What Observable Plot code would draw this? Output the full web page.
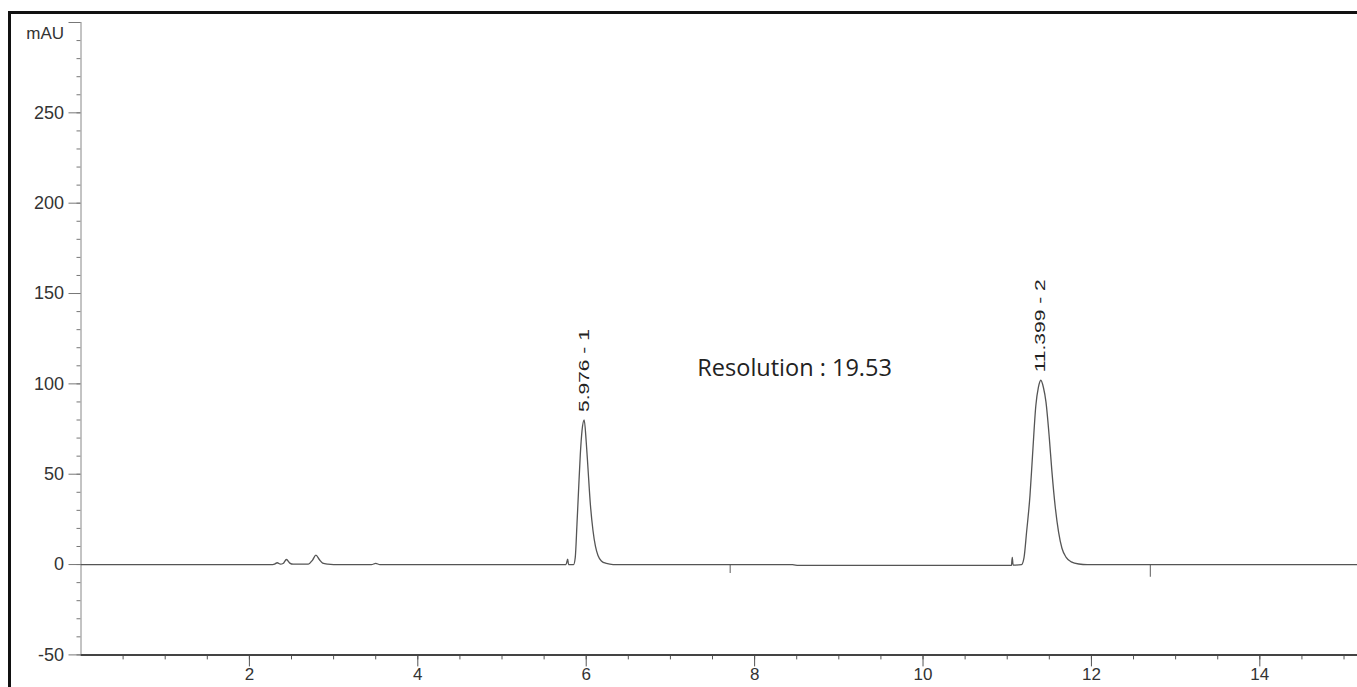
<!DOCTYPE html>
<html>
<head>
<meta charset="utf-8">
<script src="https://cdn.jsdelivr.net/npm/d3@7"></script>
<script src="https://cdn.jsdelivr.net/npm/@observablehq/plot@0.6"></script>
<style>
  html, body { margin: 0; padding: 0; background: #fff; overflow: hidden; width: 1357px; height: 687px; }
  #frame { position: absolute; left: 8px; top: 11px; width: 1400px; height: 720px;
           border-left: 3px solid #111; border-top: 3px solid #111; pointer-events: none; }
  #chart { position: absolute; left: 0; top: 0; }
</style>
</head>
<body>
<div id="chart"></div>
<div id="frame"></div>
<script>
// Chromatogram trace (retention time in min, signal in mAU)
const time = [
  0, 2.25, 2.30, 2.33, 2.37, 2.40, 2.44, 2.48, 2.52, 2.70, 2.75, 2.79, 2.83, 2.87, 2.93, 3.00,
  3.45, 3.50, 3.55, 5.76, 5.78, 5.79, 5.85, 5.87, 5.89, 5.91, 5.93, 5.95, 5.976, 6.00, 6.02,
  6.05, 6.08, 6.11, 6.14, 6.18, 6.24, 6.32, 8.45, 8.52, 11.04, 11.05, 11.06, 11.07, 11.17,
  11.20, 11.23, 11.27, 11.30, 11.34, 11.37, 11.399, 11.43, 11.46, 11.50, 11.53, 11.57, 11.61,
  11.65, 11.70, 11.76, 11.85, 11.95, 15.16
];
const signal = [
  0, 0, 0.3, 1.0, 0.2, 0.6, 2.8, 0.8, 0.2, 0.2, 2.5, 5.2, 2.8, 0.8, 0.2, 0,
  0, 0.6, 0, 0, 3, 0, 0, 4, 22, 42, 61, 74, 80, 68, 54,
  33, 19, 10, 5, 2, 0.6, 0, 0, -0.5, -0.5, -0.5, 4, -0.3, 0,
  4, 18, 38, 60, 88, 98, 102, 98, 90, 70, 52, 32, 18,
  9, 4, 1.5, 0.3, 0, 0
];
// Peak annotations
const peakRT = [5.976, 11.399];
const peakHeight = [80, 102];
const peakLabel = ["5.976 - 1", "11.399 - 2"];
// Event markers below the baseline
const markerT = [7.71, 12.70];
const markerDepth = [-5, -7];
// Axis ticks
const yMajor = [-50, 0, 50, 100, 150, 200, 250, 300];
const yLabels = [-50, 0, 50, 100, 150, 200, 250];
const yMinor = d3.range(-50, 301, 10);
const xMajor = [2, 4, 6, 8, 10, 12, 14];
const xMinor = d3.range(0.5, 15.1, 0.5);
const resolutionNote = [{t: 7.32, v: 108.5, text: "Resolution : 19.53"}];

const trace = time.map((t, i) => ({t, v: signal[i]}));
const peaks = peakRT.map((t, i) => ({t, v: peakHeight[i], label: peakLabel[i]}));
const markers = markerT.map((t, i) => ({t, v: markerDepth[i]}));

const chart = Plot.plot({
  width: 1357,
  height: 687,
  marginLeft: 80.5,
  marginRight: 0,
  marginTop: 22,
  marginBottom: 32.6,
  style: {background: "transparent", fontFamily: "'Liberation Sans', Arial, sans-serif", fontSize: "18px", color: "#333"},
  x: {domain: [0, 15.16], label: null},
  y: {domain: [-50, 300], label: null},
  marks: [
    Plot.axisY({ticks: yMinor, tickSize: 4, tickFormat: () => "", stroke: "#777", label: null}),
    Plot.axisY({ticks: yMajor, tickSize: 12, tickPadding: 5, stroke: "#777",
                tickFormat: d => yLabels.includes(d) ? String(d) : "", label: null}),
    Plot.axisX({ticks: xMinor, tickSize: 5, tickFormat: () => "", stroke: "#555", label: null}),
    Plot.axisX({ticks: xMajor, tickSize: 12, tickPadding: 1, stroke: "#555", fontSize: 17, label: null}),
    Plot.ruleX([0], {stroke: "#888", strokeWidth: 1}),
    Plot.ruleY([-50], {stroke: "#444", strokeWidth: 2}),
    Plot.ruleX(markers, {x: "t", y1: 0, y2: "v", stroke: "#777", strokeWidth: 1.2}),
    Plot.line(trace, {x: "t", y: "v", stroke: "#555", strokeWidth: 1.3, curve: "monotone-x"}),
    Plot.text(peaks, {x: "t", y: "v", text: "label", rotate: -90, textAnchor: "start", lineAnchor: "middle",
                      dy: -8, fontSize: 14, fill: "#222"}),
    Plot.text(resolutionNote, {x: "t", y: "v", text: "text", textAnchor: "start", lineAnchor: "middle",
                      fontSize: 23.5, fontFamily: "'Open Sans', sans-serif", fill: "#222"}),
    Plot.text(["mAU"], {x: 0, y: 300, text: d => d, textAnchor: "end", lineAnchor: "middle",
                      dx: -17, dy: 11, fontSize: 17, fill: "#333"})
  ]
});
document.getElementById("chart").appendChild(chart);
// stretch the rotated peak labels along their reading direction
d3.select(chart).selectAll("text").filter(function() { return peakLabel.includes(this.textContent); })
  .attr("transform", function() { return (this.getAttribute("transform") || "") + " scale(1.5,1)"; });
</script>
</body>
</html>
